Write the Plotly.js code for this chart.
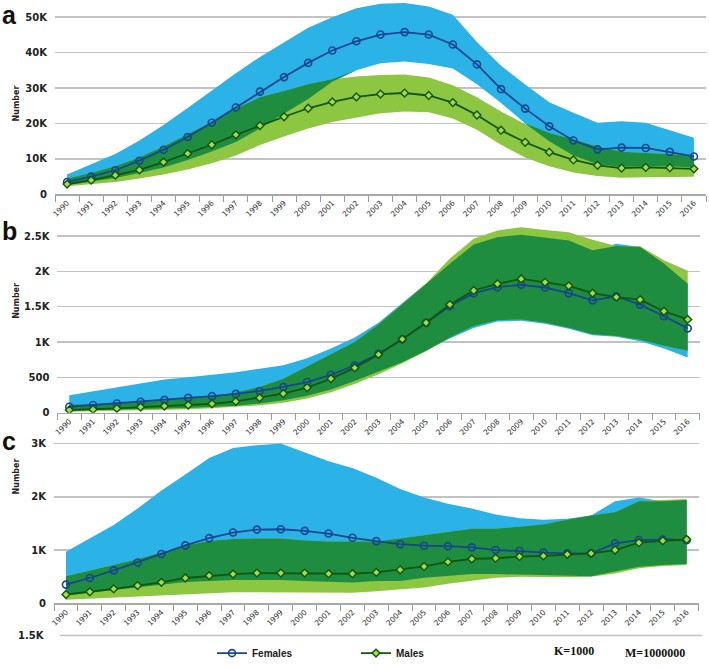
<!DOCTYPE html>
<html>
<head>
<meta charset="utf-8">
<script src="https://cdn.plot.ly/plotly-3.0.1.min.js"></script>
<style>
html,body{margin:0;padding:0;background:#fff;overflow:hidden;width:709px;height:668px;}
#chart{width:709px;height:668px;display:block;overflow:hidden;}
</style>
</head>
<body>
<div id="chart"></div>
<script>
// ---------- data ----------
const years = ['1990','1991','1992','1993','1994','1995','1996','1997','1998','1999','2000','2001','2002','2003','2004','2005','2006','2007','2008','2009','2010','2011','2012','2013','2014','2015','2016'];

// panel a
const aFem   = [3500,5000,6800,9500,12600,16200,20200,24500,29000,33100,37100,40600,43200,45100,45800,45100,42300,36700,29700,24200,19200,15200,12700,13200,13100,12000,10700];
const aFemLo = [2600,3500,4600,6000,7600,9700,12100,14800,18600,22800,26900,31800,35000,37000,37500,36800,35500,31100,25800,20000,15000,11000,8500,7800,7900,7900,7600];
const aFemHi = [5600,8500,11400,15200,19600,24400,29300,34200,38800,43000,47000,50000,52500,53800,54000,53000,50700,43000,36300,31000,26000,23000,20200,20600,20200,18100,16000];
const aMal   = [2900,4000,5400,6900,9100,11500,14000,16800,19400,21900,24300,26100,27500,28300,28600,27900,25900,22400,18100,14700,11900,9700,8200,7400,7600,7500,7200];
const aMalLo = [2300,3000,3500,4500,5600,7000,8800,11000,13900,16300,18600,20400,21600,22900,23400,23200,21400,18200,14000,10400,7900,6200,5200,4700,4800,4900,5000];
const aMalHi = [4500,6000,7900,10400,13500,16900,20400,24200,27400,29200,31100,32500,33300,33700,33800,33000,30800,27400,23400,19800,17300,15500,13500,12000,11600,11300,11000];

// panel b
const bFem   = [84,108,131,154,182,210,234,266,308,364,434,537,667,835,1040,1273,1506,1692,1776,1810,1772,1692,1590,1646,1530,1366,1194];
const bFemLo = [30,35,42,50,58,68,80,100,130,175,240,330,450,580,713,877,1050,1200,1290,1300,1260,1190,1095,1075,1010,910,783];
const bFemHi = [248,304,364,425,471,503,537,573,621,670,769,909,1063,1273,1552,1832,2110,2380,2485,2520,2476,2438,2299,2390,2345,2112,1824];
const bMal   = [38,47,61,80,94,108,126,159,210,271,355,481,635,825,1040,1273,1530,1730,1824,1894,1846,1796,1692,1636,1600,1436,1320];
const bMalLo = [15,20,25,32,40,50,62,80,105,140,200,290,405,545,700,870,1063,1227,1310,1320,1273,1203,1110,1087,1031,947,877];
const bMalHi = [117,120,136,154,173,201,234,285,364,480,650,820,1000,1250,1540,1830,2182,2462,2579,2625,2587,2555,2448,2360,2355,2159,2010];

// panel c
const cFem   = [353,477,620,768,928,1089,1225,1330,1386,1392,1362,1312,1232,1169,1113,1083,1076,1052,1002,983,953,940,940,1126,1187,1200,1187];
const cFemLo = [150,200,260,310,360,400,420,440,440,440,420,400,390,420,420,480,520,550,550,540,520,510,510,600,690,720,740];
const cFemHi = [970,1220,1470,1780,2120,2420,2730,2920,2970,3000,2830,2670,2540,2360,2150,1990,1870,1780,1670,1600,1570,1590,1650,1920,1990,1920,1940];
const cMal   = [167,217,273,334,396,477,520,551,570,570,570,557,557,582,631,693,779,835,848,879,891,922,940,1002,1139,1176,1200];
const cMalLo = [70,90,120,140,160,180,200,210,210,205,200,200,200,230,260,300,370,430,480,500,490,490,500,560,660,700,720];
const cMalHi = [510,610,720,830,950,1080,1170,1210,1220,1220,1180,1160,1160,1160,1220,1280,1350,1400,1400,1440,1480,1570,1650,1710,1920,1940,1960];

// tick labels
const aTickVals = [0,10000,20000,30000,40000,50000];
const aTickText = ['0','10K','20K','30K','40K','50K'];
const bTickVals = [0,500,1000,1500,2000,2500];
const bTickText = ['0','500','1K','1.5K','2K','2.5K'];
const cTickVals = [0,1000,2000,3000];
const cTickText = ['0','1K','2K','3K'];

// ---------- styles ----------
const BLUE = '#2bb3e8';
const LGREEN = '#8dc640';
const DGREEN = '#1f8d3f';
const FLINE = '#15468f';
const MLINE = '#0e570e';
const MFILL = '#a9d84a';

function bandTraces(xa, ya, fLo, fHi, mLo, mHi){
  const ovLo = fLo.map((v,i)=>Math.max(v, mLo[i]));
  const ovHi = ovLo.map((v,i)=>Math.max(v, Math.min(fHi[i], mHi[i])));
  const base = {x: years, xaxis: xa, yaxis: ya, mode:'lines', line:{width:0, color:'rgba(0,0,0,0)'}, hoverinfo:'skip', showlegend:false};
  return [
    Object.assign({}, base, {y: fLo}),
    Object.assign({}, base, {y: fHi, fill:'tonexty', fillcolor: BLUE}),
    Object.assign({}, base, {y: mLo}),
    Object.assign({}, base, {y: mHi, fill:'tonexty', fillcolor: LGREEN}),
    Object.assign({}, base, {y: ovLo}),
    Object.assign({}, base, {y: ovHi, fill:'tonexty', fillcolor: DGREEN})
  ];
}
function lineTraces(xa, ya, f, m, legend){
  return [
    {x: years, y: f, xaxis: xa, yaxis: ya, name:'Females', mode:'lines+markers',
     line:{color: FLINE, width:1.8},
     marker:{symbol:'circle-open', size:7, color: FLINE, line:{width:1.6, color: FLINE}},
     showlegend: legend, hoverinfo:'skip'},
    {x: years, y: m, xaxis: xa, yaxis: ya, name:'Males', mode:'lines+markers',
     line:{color: MLINE, width:1.8},
     marker:{symbol:'diamond', size:6, color: MFILL, line:{width:1.4, color: MLINE}},
     showlegend: legend, hoverinfo:'skip'}
  ];
}

const data = [].concat(
  bandTraces('x','y', aFemLo, aFemHi, aMalLo, aMalHi),
  bandTraces('x2','y2', bFemLo, bFemHi, bMalLo, bMalHi),
  bandTraces('x3','y3', cFemLo, cFemHi, cMalLo, cMalHi),
  lineTraces('x','y', aFem, aMal, true),
  lineTraces('x2','y2', bFem, bMal, false),
  lineTraces('x3','y3', cFem, cMal, false)
);

const W = 709, H = 668;
const px = v => v / W;
const py = v => 1 - v / H;

function xAxis(d0, d1, anchor){
  return {type:'category', categoryorder:'array', categoryarray: years, domain:[d0, d1], anchor: anchor,
    range:[-0.5, 26.5], tickson:'boundaries', ticks:'outside', ticklen:6, tickwidth:1, tickcolor:'#9a9a9a',
    showline:true, linecolor:'#a8a8a8', linewidth:1.5, showgrid:false, zeroline:false, tickangle:-45,
    tickfont:{family:'DejaVu Sans', size:7.5, color:'#2a2a2a'}, fixedrange:true};
}
function yAxis(d0, d1, range, tv, tt, anchor){
  return {domain:[d0, d1], range: range, anchor: anchor, tickvals: tv, ticktext: tt,
    showgrid:true, gridcolor:'#c2c2c2', gridwidth:1.5, zeroline:false, showline:false, ticks:'',
    ticklabelstandoff:7,
    tickfont:{family:'DejaVu Sans', size:10, color:'#222', weight:700}, fixedrange:true};
}

const layout = {
  width: W, height: H, autosize:false,
  margin:{l:0, r:0, t:0, b:0, pad:0},
  paper_bgcolor:'#fff', plot_bgcolor:'rgba(0,0,0,0)',
  showlegend:true,
  legend:{orientation:'h', traceorder:'normal', x: px(212), xanchor:'left', y: py(661), yanchor:'middle',
    font:{family:'Liberation Sans', size:10, color:'#1a1a1a', weight:700},
    itemwidth:30, entrywidth:99, bgcolor:'rgba(0,0,0,0)', tracegroupgap:0},
  xaxis: xAxis(px(55), px(706), 'y'),
  yaxis: yAxis(py(196.7), py(2), [0, 54300], aTickVals, aTickText, 'x'),
  xaxis2: xAxis(px(57.4), px(699.6), 'y2'),
  yaxis2: yAxis(py(417.7), py(228), [0, 2653], bTickVals, bTickText, 'x2'),
  xaxis3: xAxis(px(54), px(698.6), 'y3'),
  yaxis3: yAxis(py(610.7), py(447), [0, 3037], cTickVals, cTickText, 'x3'),
  shapes:[
    {type:'line', xref:'paper', yref:'paper', x0: px(60), x1: px(702), y0: py(643.3), y1: py(643.3),
     line:{color:'#c2c2c2', width:1.5}}
  ],
  annotations:[
    {text:'a', xref:'paper', yref:'paper', x: px(0), y: py(15), xanchor:'left', yanchor:'middle', showarrow:false,
     font:{family:'Liberation Sans', size:25, color:'#111', weight:700}},
    {text:'b', xref:'paper', yref:'paper', x: px(0), y: py(234), xanchor:'left', yanchor:'middle', showarrow:false,
     font:{family:'Liberation Sans', size:25, color:'#111', weight:700}},
    {text:'c', xref:'paper', yref:'paper', x: px(0), y: py(446), xanchor:'left', yanchor:'middle', showarrow:false,
     font:{family:'Liberation Sans', size:25, color:'#111', weight:700}},
    {text:'Number', xref:'paper', yref:'paper', x: px(10), y: py(85), textangle:-90, showarrow:false,
     font:{family:'DejaVu Sans', size:8, color:'#222', weight:700}},
    {text:'Number', xref:'paper', yref:'paper', x: px(10), y: py(305), textangle:-90, showarrow:false,
     font:{family:'DejaVu Sans', size:8, color:'#222', weight:700}},
    {text:'Number', xref:'paper', yref:'paper', x: px(10), y: py(503), textangle:-90, showarrow:false,
     font:{family:'DejaVu Sans', size:8, color:'#222', weight:700}},
    {text:'1.5K', xref:'paper', yref:'paper', x: px(47), y: py(643), xanchor:'right', yanchor:'middle', showarrow:false,
     font:{family:'DejaVu Sans', size:10, color:'#222', weight:700}},
    {text:'K=1000', xref:'paper', yref:'paper', x: px(574), y: py(659), xanchor:'center', yanchor:'middle', showarrow:false,
     font:{family:'Liberation Serif', size:12, color:'#111', weight:700}},
    {text:'M=1000000', xref:'paper', yref:'paper', x: px(655), y: py(661), xanchor:'center', yanchor:'middle', showarrow:false,
     font:{family:'Liberation Serif', size:12, color:'#111', weight:700}}
  ]
};

Plotly.newPlot('chart', data, layout, {staticPlot:true, displayModeBar:false});
</script>
</body>
</html>
